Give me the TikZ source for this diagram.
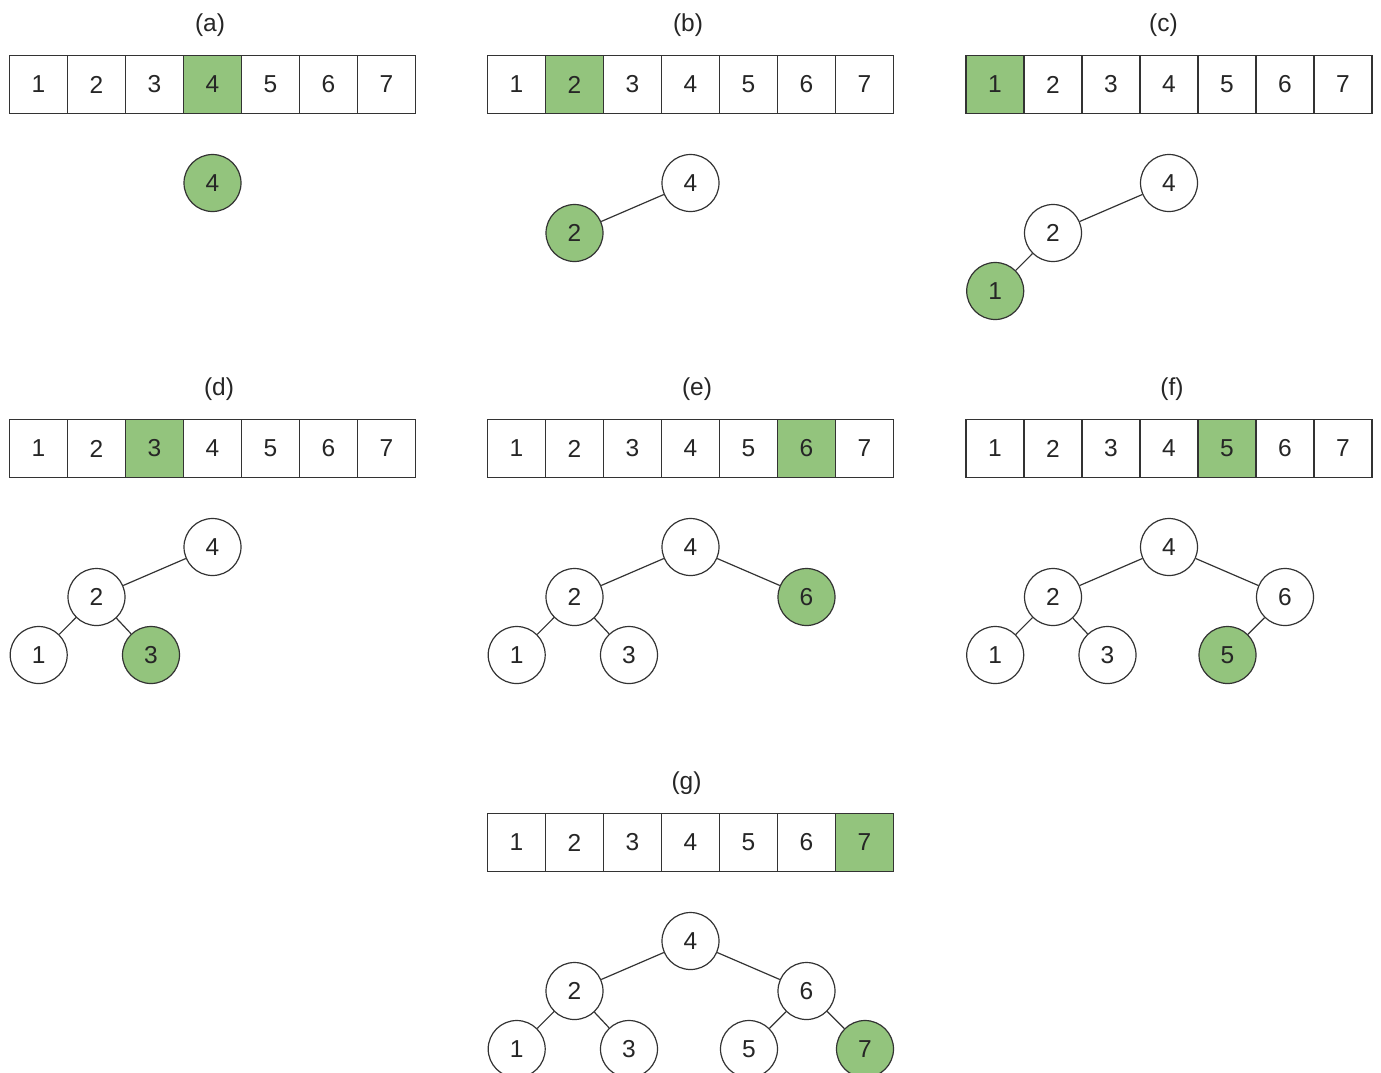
\documentclass[tikz,border=0pt]{standalone}
\usepackage{fontspec}
\setmainfont{Liberation Sans}
\definecolor{hl}{HTML}{93C47D}
\definecolor{ink}{HTML}{333333}
\newcommand\arr[3]{%
  \node[lab] (#1lab) at (#3,25) {(#1)};
  \foreach \i in {1,...,7}{%
    \ifnum\i=#2\relax\def\cf{hl}\else\def\cf{white}\fi
    \node[cell, fill=\cf] (#1c\i) at (9.5+\i*58-29,84.5) {\i};
  }}
\begin{document}
\begin{tikzpicture}[x=1pt,y=-1pt,
  cell/.style={draw=ink, line width=1.2pt, minimum width=58pt, minimum height=58pt, inner sep=0pt, font=\fontsize{24.5}{24.5}\selectfont, text=black!85},
  vtx/.style={circle, draw=ink, line width=1.2pt, minimum size=57pt, inner sep=0pt, fill=white, font=\fontsize{24.5}{24.5}\selectfont, text=black!85},
  hv/.style={vtx, fill=hl},
  lab/.style={font=\fontsize{24.5}{24.5}\selectfont, text=black!85, inner sep=0pt},
  edge/.style={draw=ink, line width=1.2pt}]
\useasboundingbox (0,0) rectangle (1381,1072);
\clip (0,0) rectangle (1381,1072);
% (a)
\begin{scope}
  \arr{a}{4}{210}
  \node[hv] (a4) at (212.5,183) {4};
\end{scope}
% (b)
\begin{scope}[shift={(478,0)}]
  \arr{b}{2}{210}
  \node[vtx] (b4) at (212.5,183) {4};
  \node[hv] (b2) at (96.5,233) {2};
  \draw[edge] (b4) -- (b2);
\end{scope}
% (c)
\begin{scope}[shift={(956.5,0)}]
  \arr{c}{1}{207}
  \node[vtx] (c4) at (212.5,183) {4};
  \node[vtx] (c2) at (96.5,233) {2};
  \node[hv] (c1) at (38.7,291) {1};
  \draw[edge] (c4) -- (c2);
  \draw[edge] (c2) -- (c1);
\end{scope}
% (d)
\begin{scope}[shift={(0,364)}]
  \arr{d}{3}{219}
  \node[vtx] (d4) at (212.5,183) {4};
  \node[vtx] (d2) at (96.5,233) {2};
  \node[vtx] (d1) at (38.7,291) {1};
  \node[hv] (d3) at (151,291) {3};
  \draw[edge] (d4) -- (d2);
  \draw[edge] (d2) -- (d1);
  \draw[edge] (d2) -- (d3);
\end{scope}
% (e)
\begin{scope}[shift={(478,364)}]
  \arr{e}{6}{219}
  \node[vtx] (e4) at (212.5,183) {4};
  \node[vtx] (e2) at (96.5,233) {2};
  \node[vtx] (e1) at (38.7,291) {1};
  \node[vtx] (e3) at (151,291) {3};
  \node[hv] (e6) at (328.5,233) {6};
  \draw[edge] (e4) -- (e2);
  \draw[edge] (e2) -- (e1);
  \draw[edge] (e2) -- (e3);
  \draw[edge] (e4) -- (e6);
\end{scope}
% (f)
\begin{scope}[shift={(956.5,364)}]
  \arr{f}{5}{215.5}
  \node[vtx] (f4) at (212.5,183) {4};
  \node[vtx] (f2) at (96.5,233) {2};
  \node[vtx] (f1) at (38.7,291) {1};
  \node[vtx] (f3) at (151,291) {3};
  \node[vtx] (f6) at (328.5,233) {6};
  \node[hv] (f5) at (271,291) {5};
  \draw[edge] (f4) -- (f2);
  \draw[edge] (f2) -- (f1);
  \draw[edge] (f2) -- (f3);
  \draw[edge] (f4) -- (f6);
  \draw[edge] (f6) -- (f5);
\end{scope}
% (g)
\begin{scope}[shift={(478,758)}]
  \arr{g}{7}{208.5}
  \node[vtx] (g4) at (212.5,183) {4};
  \node[vtx] (g2) at (96.5,233) {2};
  \node[vtx] (g1) at (38.7,291) {1};
  \node[vtx] (g3) at (151,291) {3};
  \node[vtx] (g6) at (328.5,233) {6};
  \node[vtx] (g5) at (271,291) {5};
  \node[hv] (g7) at (387,291) {7};
  \draw[edge] (g4) -- (g2);
  \draw[edge] (g2) -- (g1);
  \draw[edge] (g2) -- (g3);
  \draw[edge] (g4) -- (g6);
  \draw[edge] (g6) -- (g5);
  \draw[edge] (g6) -- (g7);
\end{scope}
\end{tikzpicture}
\end{document}
